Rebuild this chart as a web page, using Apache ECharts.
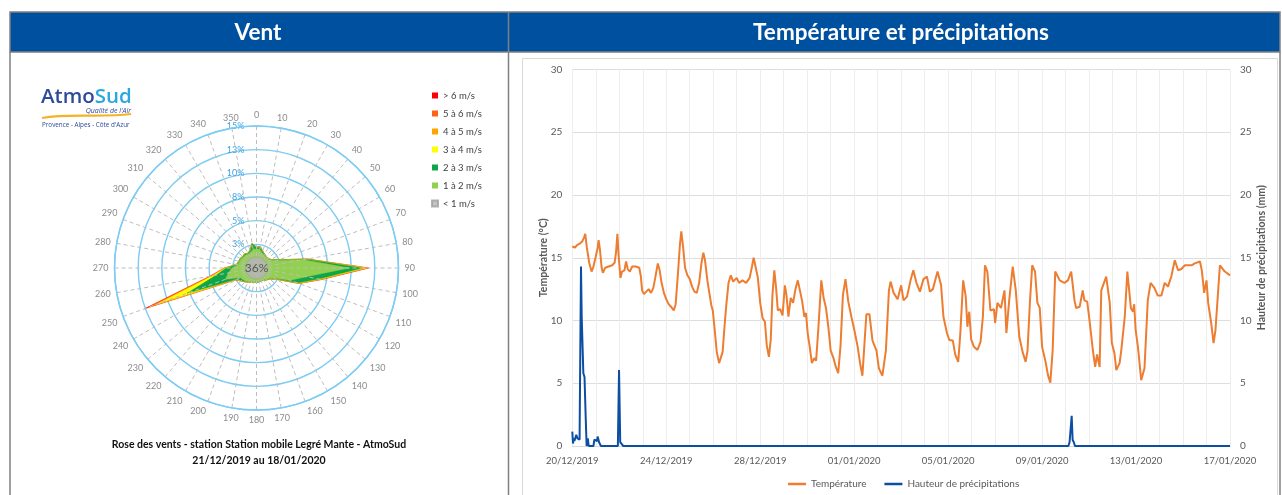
<!DOCTYPE html>
<html>
<head>
<meta charset="utf-8">
<script src="https://cdn.jsdelivr.net/npm/echarts@6/dist/echarts.min.js"></script>
<style>
html,body{margin:0;padding:0;background:#fff;}
#c{width:1282px;height:495px;}
</style>
</head>
<body>
<div id="c"></div>
<script>
// ---------- Wind rose data (frequency %, per speed class, by direction) ----------
const directions = [0,10,20,30,40,50,60,70,80,90,100,110,120,130,140,150,160,170,180,190,200,210,220,230,240,250,260,270,280,290,300,310,320,330,340,350];
const f1to2 = [2.0,2.0,1.7,1.6,1.5,1.5,1.7,2.3,5.0,9.8,5.3,3.8,2.1,1.7,1.6,1.5,1.45,1.5,1.5,1.55,1.6,1.7,1.8,1.9,2.0,3.5,3.0,2.6,2.0,1.9,1.9,1.8,1.8,1.7,1.8,2.0];
const f2to3 = [0.2,0.3,0.2,0.1,0.1,0.05,0.1,0.25,0.45,1.4,1.4,0.8,0.25,0.1,0.05,0,0,0,0,0,0,0.05,0.1,0.2,0.3,4.3,1.3,0.6,0.15,0.1,0.1,0.1,0.15,0.1,0.2,0.65];
const f3to4 = [0,0,0,0,0,0,0,0,0,0.35,0.15,0.1,0.03,0,0,0,0,0,0,0,0,0,0,0.05,0.1,3.2,0.4,0.1,0,0,0,0,0,0,0,0];
const f4to5 = [0,0,0,0,0,0,0,0,0,0.15,0.08,0.05,0,0,0,0,0,0,0,0,0,0,0,0,0.05,0.8,0.15,0.05,0,0,0,0,0,0,0,0];
const f5to6 = [0,0,0,0,0,0,0,0,0,0.1,0.05,0.02,0,0,0,0,0,0,0,0,0,0,0,0,0.03,0.4,0.1,0.03,0,0,0,0,0,0,0,0];
const fOver6 = [0,0,0,0,0,0,0,0,0,0.05,0.02,0,0,0,0,0,0,0,0,0,0,0,0,0,0.02,0.4,0.05,0.02,0,0,0,0,0,0,0,0];
const calmPercent = 36;
const speedClasses = ['> 6 m/s','5 à 6 m/s','4 à 5 m/s','3 à 4 m/s','2 à 3 m/s','1 à 2 m/s','< 1 m/s'];
const classColors = ['#FF0000','#FF6414','#FFA500','#FFFF00','#0FA64A','#92D050','#B4B4B4'];

// ---------- Temperature / precipitation data: [day since 20/12/2019 00h, value] ----------
const temperature = [
[0,15.9],[0.1,15.8],[0.2,16.0],[0.3,16.1],[0.42,16.3],[0.5,16.6],[0.55,16.9],[0.62,15.8],[0.72,14.6],[0.82,13.9],
[0.9,14.3],[1.0,15.1],[1.08,15.8],[1.12,16.4],[1.18,15.6],[1.25,14.2],[1.3,13.8],[1.4,14.2],[1.55,14.3],[1.7,14.4],
[1.8,14.6],[1.86,15.4],[1.92,16.9],[1.97,15.2],[2.05,13.4],[2.12,13.9],[2.22,14.0],[2.29,14.7],[2.36,14.1],[2.45,13.9],
[2.55,14.3],[2.7,14.3],[2.85,14.2],[2.92,13.5],[2.97,12.4],[3.05,12.1],[3.15,12.3],[3.25,12.5],[3.35,12.2],[3.45,12.6],
[3.55,13.6],[3.64,14.55],[3.72,14.0],[3.8,13.0],[3.9,12.2],[4.0,11.7],[4.1,11.3],[4.2,11.1],[4.32,10.8],[4.4,11.3],
[4.5,13.8],[4.58,16.0],[4.64,17.1],[4.72,15.8],[4.8,14.2],[4.9,13.6],[5.0,13.3],[5.1,12.7],[5.2,12.3],[5.3,12.2],
[5.4,13.0],[5.5,14.6],[5.58,15.4],[5.65,14.8],[5.75,13.2],[5.85,12.0],[5.92,11.2],[5.98,10.8],[6.05,9.5],[6.15,7.5],
[6.25,6.6],[6.32,6.5],[6.4,7.5],[6.48,9.5],[6.55,11.1],[6.65,13.0],[6.75,13.6],[6.85,13.1],[7.0,13.4],[7.1,13.0],
[7.25,13.2],[7.4,13.0],[7.55,13.4],[7.65,14.3],[7.72,15.0],[7.8,14.3],[7.9,13.4],[8.0,11.4],[8.1,10.2],[8.2,9.9],
[8.28,8.0],[8.37,7.1],[8.45,8.5],[8.52,12.0],[8.6,14.0],[8.68,12.5],[8.75,10.8],[8.85,10.9],[8.95,10.4],[9.05,12.8],
[9.12,12.0],[9.2,10.3],[9.3,11.8],[9.4,11.4],[9.5,12.5],[9.6,13.2],[9.67,13.3],[9.78,11.6],[9.88,10.3],[9.95,10.6],
[10.02,9.0],[10.1,8.0],[10.2,6.6],[10.3,7.0],[10.38,6.8],[10.48,9.5],[10.6,13.2],[10.7,11.8],[10.8,11.0],[10.9,9.5],
[11.0,7.6],[11.12,7.0],[11.22,6.3],[11.32,5.8],[11.42,8.0],[11.52,12.0],[11.63,13.3],[11.75,11.5],[11.88,10.3],[12.0,9.3],
[12.15,7.9],[12.25,6.6],[12.35,5.6],[12.45,8.5],[12.52,10.5],[12.65,10.5],[12.78,8.4],[12.95,7.6],[13.05,6.2],[13.2,5.6],
[13.35,7.6],[13.48,12.4],[13.55,13.1],[13.68,12.2],[13.85,11.7],[14.0,12.8],[14.1,11.6],[14.25,11.9],[14.4,13.2],[14.52,14.0],
[14.65,13.0],[14.8,12.3],[14.95,13.3],[15.1,13.5],[15.22,12.3],[15.35,12.5],[15.55,13.9],[15.7,12.8],[15.8,10.3],[15.95,9.0],
[16.05,8.45],[16.2,8.4],[16.3,7.3],[16.43,6.7],[16.52,9.0],[16.64,13.2],[16.75,11.9],[16.82,9.5],[16.9,10.7],[16.98,8.5],
[17.1,7.9],[17.25,7.65],[17.38,8.3],[17.48,10.3],[17.57,14.4],[17.67,13.9],[17.8,10.8],[17.95,10.9],[18.0,9.8],[18.1,11.4],
[18.25,11.0],[18.4,12.4],[18.48,9.0],[18.6,11.6],[18.75,14.3],[18.88,12.4],[19.03,8.7],[19.17,7.5],[19.3,6.7],[19.38,7.6],
[19.48,11.4],[19.58,14.4],[19.7,13.9],[19.8,11.4],[19.9,11.0],[20.0,7.9],[20.15,6.7],[20.25,5.65],[20.35,5.05],[20.45,7.6],
[20.56,13.9],[20.75,13.2],[20.95,13.0],[21.1,13.2],[21.24,13.9],[21.38,11.6],[21.45,11.0],[21.6,11.1],[21.73,12.4],[21.8,11.6],
[21.92,11.5],[22.02,10.0],[22.16,7.65],[22.26,6.3],[22.34,7.3],[22.45,6.3],[22.52,12.4],[22.73,13.5],[22.88,11.4],[22.97,8.2],
[23.08,7.4],[23.16,6.05],[23.3,6.6],[23.37,7.6],[23.52,10.3],[23.63,13.9],[23.78,11.0],[23.87,10.7],[23.92,11.3],[23.98,9.3],
[24.08,7.9],[24.22,5.25],[24.36,6.2],[24.5,11.6],[24.62,13.0],[24.78,12.6],[24.92,12.0],[25.08,12.0],[25.22,13.0],[25.36,12.7],
[25.5,13.5],[25.65,14.8],[25.79,14.0],[25.93,14.1],[26.08,14.4],[26.36,14.4],[26.5,14.55],[26.72,14.7],[26.8,14.0],[26.9,12.2],
[27.0,13.2],[27.07,11.4],[27.2,9.8],[27.3,8.2],[27.38,9.2],[27.57,14.4],[27.78,13.9],[28.0,13.6]
];
const precipitation = [
[0,1.15],[0.03,0.2],[0.06,0.6],[0.09,0.4],[0.12,0.5],[0.17,0.9],[0.22,0.6],[0.27,0.75],[0.31,0.5],[0.37,14.3],
[0.40,10.3],[0.47,5.8],[0.52,5.5],[0.57,2.3],[0.61,0],[0.66,0.6],[0.70,0],[0.9,0],[0.94,0.5],[1.01,0.6],
[1.05,0.4],[1.08,0.75],[1.14,0.3],[1.22,0],[1.94,0],[1.99,6.05],[2.04,0.3],[2.1,0.2],[2.17,0],
[10.03,0],[10.07,0.15],[10.11,0],[11.03,0],[11.07,0.15],[11.11,0],[12.05,0],[12.09,0.15],[12.13,0],
[12.95,0],[12.99,0.15],[13.03,0],[17.24,0],[17.28,0.15],[17.32,0],[18.38,0],[18.42,0.15],[18.46,0],
[21.12,0],[21.17,0.3],[21.22,0.4],[21.26,2.4],[21.3,0.5],[21.35,0.3],[21.4,0],[22.06,0],[22.1,0.15],[22.14,0],
[23.16,0],[23.2,0.15],[23.24,0],[24.16,0],[24.2,0.15],[24.24,0],[27.16,0],[27.2,0.15],[27.24,0],[28,0]
];
const dateLabels = ['20/12/2019','24/12/2019','28/12/2019','01/01/2020','05/01/2020','09/01/2020','13/01/2020','17/01/2020'];

// ---------- Build cumulative rose series ----------
const classesLowToHigh = [f1to2, f2to3, f3to4, f4to5, f5to6, fOver6];
const cumulative = [];
let running = directions.map(() => 0);
classesLowToHigh.forEach(arr => {
  running = running.map((v, i) => v + arr[i]);
  cumulative.push(running.slice());
});
const roseSeries = [];
for (let k = 5; k >= 0; k--) {
  const cum = cumulative[k];
  const pts = directions.map((d, i) => [cum[i], d]);
  pts.push([cum[0], 360]);
  const idx = 5 - k;
  roseSeries.push({
    name: speedClasses[idx],
    type: 'line',
    coordinateSystem: 'polar',
    polarIndex: 0,
    data: pts,
    symbol: 'none',
    smooth: false,
    color: classColors[idx],
    lineStyle: { width: 0.5, color: classColors[idx] },
    areaStyle: { color: classColors[idx], opacity: 1 },
    z: 2,
    silent: true
  });
}
roseSeries.push({
  name: speedClasses[6],
  type: 'scatter',
  coordinateSystem: 'polar',
  data: [[0, 0]],
  symbol: 'circle',
  symbolSize: 22,
  color: classColors[6],
  itemStyle: { color: classColors[6], borderColor: '#A0A0A0', borderWidth: 0.5 },
  label: { show: true, position: 'inside', formatter: calmPercent + '%', color: '#404040', fontSize: 12, fontFamily: 'Lato' },
  z: 6,
  silent: true
});

const chart = echarts.init(document.getElementById('c'), null, { renderer: 'canvas' });
const FONT = 'Lato';
const option = {
  animation: false,
  textStyle: { fontFamily: FONT },
  graphic: [
    { type: 'rect', shape: { x: 10, y: 12, width: 1270, height: 40 }, style: { fill: '#0050A0', stroke: '#808080', lineWidth: 1.5 }, z: 0 },
    { type: 'line', shape: { x1: 508.5, y1: 12, x2: 508.5, y2: 495 }, style: { stroke: '#808080', lineWidth: 1.5 } },
    { type: 'line', shape: { x1: 10, y1: 52, x2: 10, y2: 495 }, style: { stroke: '#808080', lineWidth: 1.5 } },
    { type: 'line', shape: { x1: 1280, y1: 52, x2: 1280, y2: 495 }, style: { stroke: '#808080', lineWidth: 1.5 } },
    { type: 'rect', shape: { x: 522.5, y: 58.5, width: 755, height: 460 }, style: { fill: 'none', stroke: '#D9D9D9', lineWidth: 1 } },
    { type: 'text', style: { text: 'Vent', x: 258, y: 33, fill: '#FFFFFF', font: 'bold 22.5px Lato', align: 'center', verticalAlign: 'middle', textAlign: 'center', textVerticalAlign: 'middle' } },
    { type: 'text', style: { text: 'Température et précipitations', x: 901, y: 33, fill: '#FFFFFF', font: 'bold 22.5px Lato', align: 'center', verticalAlign: 'middle', textAlign: 'center', textVerticalAlign: 'middle' } },
    // logo
    { type: 'text', style: { text: '{a|Atmo}{b|Sud}', x: 41, y: 97, align: 'left', verticalAlign: 'middle', textAlign: 'left', textVerticalAlign: 'middle',
        rich: { a: { fontFamily: 'Open Sans', fontWeight: 600, fontSize: 20.5, fill: '#2D4B9B', color: '#2D4B9B' }, b: { fontFamily: 'Open Sans', fontWeight: 600, fontSize: 20.5, fill: '#2AA7E1', color: '#2AA7E1' } } } },
    { type: 'text', style: { text: "Qualité de l'Air", x: 131, y: 110.5, fill: '#2D4B9B', font: 'italic 7px "Open Sans"', align: 'right', verticalAlign: 'middle', textAlign: 'right', textVerticalAlign: 'middle' } },
    { type: 'bezierCurve', shape: { x1: 42, y1: 118, cpx1: 70, cpy1: 113, cpx2: 100, cpy2: 118, x2: 131, y2: 114 }, style: { stroke: '#F5B324', lineWidth: 2.2, fill: 'none' } },
    { type: 'text', style: { text: "Provence - Alpes - Côte d'Azur", x: 42, y: 125, fill: '#2D4B9B', font: '6.3px "Open Sans"', align: 'left', verticalAlign: 'middle', textAlign: 'left', textVerticalAlign: 'middle' } },
    // rose caption
    { type: 'text', style: { text: 'Rose des vents - station Station mobile Legré Mante - AtmoSud', x: 259, y: 445, fill: '#111111', font: 'bold 10.5px Lato', align: 'center', verticalAlign: 'middle', textAlign: 'center', textVerticalAlign: 'middle' } },
    { type: 'text', style: { text: '21/12/2019 au 18/01/2020', x: 259, y: 460.5, fill: '#111111', font: 'bold 10.5px Lato', align: 'center', verticalAlign: 'middle', textAlign: 'center', textVerticalAlign: 'middle' } }
  ],
  legend: [
    {
      orient: 'vertical', left: 426, top: 85,
      data: speedClasses,
      icon: 'rect', itemWidth: 6, itemHeight: 6, itemGap: 7,
      textStyle: { fontSize: 9.5, color: '#404040', fontFamily: FONT, lineHeight: 11 },
      selectedMode: false
    },
    {
      orient: 'horizontal', left: 783, top: 474,
      data: ['Température', 'Hauteur de précipitations'],
      icon: 'rect', itemWidth: 18, itemHeight: 2.5, itemGap: 18,
      textStyle: { fontSize: 10, color: '#595959', fontFamily: FONT },
      selectedMode: false
    }
  ],
  polar: { center: [256.5, 268], radius: 142 },
  angleAxis: {
    type: 'value', min: 0, max: 360, interval: 10, startAngle: 90, clockwise: true,
    z: 3,
    axisLine: { show: true, lineStyle: { color: '#7DCCF3', width: 1.4 } },
    axisTick: { show: false },
    axisLabel: { color: '#8C8C8C', fontSize: 9, margin: 6, fontFamily: FONT, formatter: v => (v === 360 ? '' : String(v)) },
    splitLine: { show: true, lineStyle: { color: '#BDBDBD', width: 1, type: [4, 3] } }
  },
  radiusAxis: {
    type: 'value', min: 0, max: 15, interval: 2.5, z: 7,
    axisLine: { show: false }, axisTick: { show: false },
    axisLabel: { color: '#3BA3E0', fontSize: 9, margin: 12, showMinLabel: true, showMaxLabel: true, fontFamily: FONT, formatter: v => Math.round(v) + '%' },
    splitLine: { show: false }
  },
  series: roseSeries.concat([
    {
      name: 'Température', type: 'line', xAxisIndex: 0, yAxisIndex: 0,
      data: temperature, symbol: 'none', smooth: false, color: '#ED7D31',
      lineStyle: { color: '#ED7D31', width: 2 }, z: 3
    },
    {
      name: 'Hauteur de précipitations', type: 'line', xAxisIndex: 0, yAxisIndex: 1,
      data: precipitation, symbol: 'none', smooth: false, color: '#0B4EA2',
      lineStyle: { color: '#0B4EA2', width: 2 }, z: 4
    }
  ]),
  grid: { left: 572.3, right: 52, top: 69.5, bottom: 49 },
  xAxis: {
    type: 'value', min: 0, max: 28, interval: 1,
    axisLine: { show: true, lineStyle: { color: '#D9D9D9' } },
    axisTick: { show: false },
    axisLabel: { color: '#595959', fontSize: 9.5, margin: 10, fontFamily: FONT, formatter: v => (v % 4 === 0 ? dateLabels[v / 4] : '') },
    splitLine: { show: true, lineStyle: { color: '#EDEDED', width: 1 } }
  },
  yAxis: [
    {
      type: 'value', min: 0, max: 30, interval: 5, position: 'left',
      name: 'Température (°C)', nameLocation: 'middle', nameRotate: 90, nameGap: 23, nameMoveOverlap: false,
      nameTextStyle: { color: '#595959', fontSize: 10.5, fontWeight: 'bold', fontFamily: FONT },
      axisLine: { show: false }, axisTick: { show: false },
      axisLabel: { color: '#595959', fontSize: 10, margin: 10, fontFamily: FONT },
      splitLine: { show: true, lineStyle: { color: '#DEDEDE', width: 1.2 } }
    },
    {
      type: 'value', min: 0, max: 30, interval: 5, position: 'right',
      name: 'Hauteur de précipitations (mm)', nameLocation: 'middle', nameRotate: 90, nameGap: 26, nameMoveOverlap: false,
      nameTextStyle: { color: '#595959', fontSize: 10.5, fontWeight: 'bold', fontFamily: FONT },
      axisLine: { show: false }, axisTick: { show: false },
      axisLabel: { color: '#595959', fontSize: 10, margin: 10, fontFamily: FONT },
      splitLine: { show: false }
    }
  ]
};
// rings drawn beneath the rose via a second (label-free) radius split: use angleAxis-independent circles
option.radiusAxis.splitLine = { show: true, lineStyle: { color: '#7DCCF3', width: 1.4 } };
option.radiusAxis.z = 1;
chart.setOption(option);
</script>
</body>
</html>
